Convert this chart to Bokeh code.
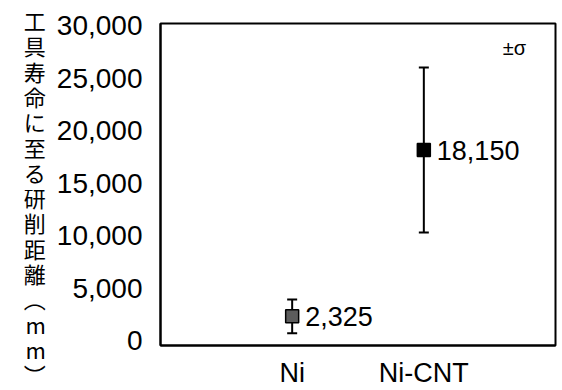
from bokeh.plotting import figure
from bokeh.models import ColumnDataSource, Whisker, TeeHead, LabelSet, Label, FixedTicker, NumeralTickFormatter, Range1d
from bokeh.core.properties import value
from bokeh.embed import file_html
from bokeh.resources import INLINE

categories = ["Ni", "Ni-CNT"]
positions = [1, 2]
means = [2325, 18150]
sigmas = [1600, 7850]
value_labels = ["2,325", "18,150"]
marker_colors = ["#5c5c5c", "#000000"]
y_ticks = [0, 5000, 10000, 15000, 20000, 25000, 30000]
y_title_chars = ["工", "具", "寿", "命", "に", "至", "る", "研", "削", "距", "離", "︵", "m", "m", "︶"]

lower = [m - s for m, s in zip(means, sigmas)]
upper = [m + s for m, s in zip(means, sigmas)]
src = ColumnDataSource(dict(x=positions, y=means, lo=lower, hi=upper, lab=value_labels, col=marker_colors))

p = figure(width=562, height=390, output_backend="svg", toolbar_location=None,
           x_range=Range1d(0, 3), y_range=Range1d(-450, 30200),
           min_border_top=23, min_border_right=7, min_border_bottom=0, min_border_left=160)
p.background_fill_color = "white"
p.border_fill_color = "white"
p.grid.visible = False
p.outline_line_color = "black"
p.outline_line_width = 2

font = "Liberation Sans"
p.xaxis.ticker = FixedTicker(ticks=positions)
p.xaxis.major_label_overrides = {pos: c for pos, c in zip(positions, categories)}
p.yaxis.ticker = FixedTicker(ticks=y_ticks)
p.yaxis.formatter = NumeralTickFormatter(format="0,0")
for ax in (p.xaxis, p.yaxis):
    ax.major_tick_line_color = None
    ax.minor_tick_line_color = None
    ax.axis_line_color = "black"
    ax.axis_line_width = 2
    ax.major_label_text_font = font
    ax.major_label_text_font_size = "27px"
    ax.major_label_text_color = "black"
p.yaxis.major_label_text_font_size = "28px"
p.xaxis.major_label_standoff = 6
p.yaxis.major_label_standoff = 12

# vertical (tategaki) axis title: upright characters, one per line
# (a leading empty line shifts the centred block down half a line, as in the reference)
p.yaxis.axis_label = "\n" + "\n".join(y_title_chars)
p.yaxis.axis_label_orientation = "horizontal"
p.yaxis.axis_label_text_font = "Noto Sans CJK JP"
p.yaxis.axis_label_text_font_size = "22px"
p.yaxis.axis_label_text_font_style = "normal"
p.yaxis.axis_label_text_color = "black"
p.yaxis.axis_label_text_line_height = 0.79
p.yaxis.axis_label_standoff = 8

whisk = Whisker(source=src, base="x", lower="lo", upper="hi", line_color="black", line_width=2,
                upper_head=TeeHead(size=10, line_width=2, line_color="black"),
                lower_head=TeeHead(size=10, line_width=2, line_color="black"))
p.add_layout(whisk)

p.scatter("x", "y", source=src, marker="square", size=13, fill_color="col", line_color="black", line_width=1.5)

p.add_layout(LabelSet(x="x", y="y", text="lab", source=src, x_offset=13, text_baseline="middle",
                      text_font=value(font), text_font_size=value("27px"), text_color="black"))

p.add_layout(Label(x=2.6, y=27850, text="±σ", text_baseline="middle", text_font=font,
                   text_font_size="20px", text_color="black"))

open("out.html", "w").write(file_html(p, INLINE))
